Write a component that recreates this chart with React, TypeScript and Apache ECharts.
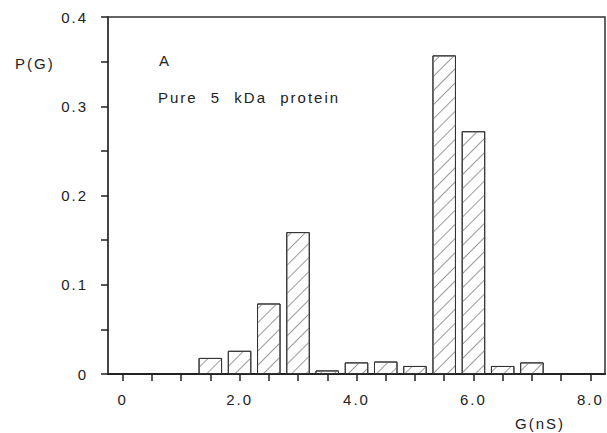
import React, { useEffect, useRef } from "react";
import * as echarts from "echarts";

const binCenters = [1.5, 2.0, 2.5, 3.0, 3.5, 4.0, 4.5, 5.0, 5.5, 6.0, 6.5, 7.0];
const probabilities = [0.018, 0.026, 0.079, 0.159, 0.004, 0.013, 0.014, 0.009, 0.357, 0.272, 0.009, 0.013];
const xTickValues = [0, 0.5, 1, 1.5, 2, 2.5, 3, 3.5, 4, 4.5, 5, 5.5, 6, 6.5, 7, 7.5, 8];
const xLabelValues = [0, 2, 4, 6, 8];
const yTickValues = [0, 0.05, 0.1, 0.15, 0.2, 0.25, 0.3, 0.35, 0.4];
const yLabelValues = [0, 0.1, 0.2, 0.3, 0.4];

const FONT = "'Liberation Sans', Arial, sans-serif";
const INK = "#222";

export default function App() {
  const ref = useRef<HTMLDivElement>(null);
  useEffect(() => {
    if (!ref.current) return;
    const chart = echarts.init(ref.current, undefined, { renderer: "svg" });
    const data = binCenters.map((x, i) => [x, probabilities[i]]);
    chart.setOption({
      animation: false,
      backgroundColor: "#fff",
      textStyle: { fontFamily: FONT },
      grid: {
        left: 108,
        right: 2,
        top: 17,
        bottom: 59,
        show: true,
        borderColor: "#333",
        borderWidth: 1.5,
        backgroundColor: "transparent",
      },
      xAxis: {
        type: "value",
        min: -0.25,
        max: 8.25,
        axisLine: { show: true, onZero: false, lineStyle: { color: "#222", width: 2 } },
        axisTick: {
          show: true,
          length: 7,
          customValues: xTickValues,
          lineStyle: { color: "#222", width: 1.5 },
        },
        axisLabel: {
          customValues: xLabelValues,
          margin: 18,
          fontSize: 15,
          color: INK,
          fontFamily: FONT,
          formatter: (v: number) => (v === 0 ? "0" : v.toFixed(1)),
        },
        splitLine: { show: false },
      },
      yAxis: {
        type: "value",
        min: 0,
        max: 0.4,
        axisLine: { show: true, onZero: false, lineStyle: { color: "#444", width: 2 } },
        axisTick: {
          show: true,
          length: 7,
          customValues: yTickValues,
          lineStyle: { color: "#222", width: 1.5 },
        },
        axisLabel: {
          customValues: yLabelValues,
          margin: 20,
          fontSize: 15,
          color: INK,
          fontFamily: FONT,
          formatter: (v: number) => (v === 0 ? "0" : v.toFixed(1)),
        },
        splitLine: { show: false },
      },
      series: [
        {
          type: "bar",
          data,
          barWidth: 23.5,
          itemStyle: {
            color: "#fff",
            borderColor: "#333",
            borderWidth: 1,
            decal: {
              symbol: "rect",
              symbolSize: 1,
              dashArrayX: [1, 0],
              dashArrayY: [0.8, 8.5],
              rotation: -Math.PI / 4,
              color: "#9a9a9a",
              backgroundColor: "#fff",
            },
          },
        },
      ],
      graphic: [
        {
          type: "text",
          x: 15,
          y: 63,
          style: { text: "P(G)", fontSize: 15, fontFamily: FONT, fill: INK, verticalAlign: "middle" },
        },
        {
          type: "text",
          x: 159,
          y: 60,
          style: { text: "A", fontSize: 15, fontFamily: FONT, fill: INK, verticalAlign: "middle" },
        },
        {
          type: "text",
          x: 158,
          y: 97,
          style: { text: "Pure 5 kDa protein", fontSize: 15, fontFamily: FONT, fill: INK, verticalAlign: "middle" },
        },
        {
          type: "text",
          x: 515,
          y: 423,
          style: { text: "G(nS)", fontSize: 15, fontFamily: FONT, fill: INK, verticalAlign: "middle" },
        },
      ],
    });
    return () => chart.dispose();
  }, []);
  return (
    <div
      ref={ref}
      style={{
        width: 607,
        height: 433,
        position: "absolute",
        left: 0,
        top: 0,
        letterSpacing: "2px",
        wordSpacing: "7px",
      }}
    />
  );
}
